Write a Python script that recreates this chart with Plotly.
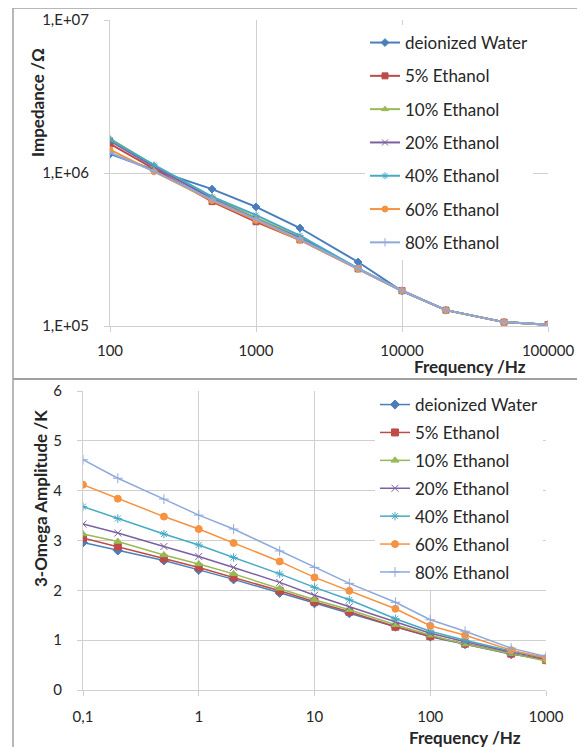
import plotly.graph_objects as go

series_names = ["deionized Water", "5% Ethanol", "10% Ethanol", "20% Ethanol",
                "40% Ethanol", "60% Ethanol", "80% Ethanol"]
colors = ["#4A7EBB", "#BE4B48", "#98B954", "#7D60A0", "#46AAC5", "#F69240", "#8EA9DB"]
symbols = ["diamond", "square", "triangle-up", "x-thin-open", "asterisk-open",
           "circle", "cross-thin-open"]

# Top chart: impedance vs frequency
freq_imp = [100, 200, 500, 1000, 2000, 5000, 10000, 20000, 50000, 100000]
imp_water = [1.33e6, 1.05e6, 7.85e5, 6.0e5, 4.37e5, 2.62e5, 1.69e5, 1.27e5, 1.06e5, 1.02e5]
imp_5 = [1.55e6, 1.07e6, 6.5e5, 4.8e5, 3.65e5, 2.36e5, 1.70e5, 1.27e5, 1.06e5, 1.02e5]
imp_10 = [1.68e6, 1.12e6, 6.95e5, 5.1e5, 3.8e5, 2.37e5, 1.70e5, 1.27e5, 1.06e5, 1.02e5]
imp_20 = [1.62e6, 1.10e6, 6.8e5, 5.0e5, 3.75e5, 2.36e5, 1.70e5, 1.27e5, 1.06e5, 1.02e5]
imp_40 = [1.65e6, 1.13e6, 7.0e5, 5.3e5, 3.9e5, 2.38e5, 1.70e5, 1.27e5, 1.06e5, 1.02e5]
imp_60 = [1.42e6, 1.02e6, 6.6e5, 4.9e5, 3.65e5, 2.36e5, 1.70e5, 1.27e5, 1.06e5, 1.02e5]
imp_80 = [1.36e6, 1.03e6, 6.7e5, 5.0e5, 3.7e5, 2.37e5, 1.70e5, 1.27e5, 1.06e5, 1.02e5]
imp_series = [imp_water, imp_5, imp_10, imp_20, imp_40, imp_60, imp_80]

# Bottom chart: 3-omega amplitude vs frequency
freq_amp = [0.1, 0.2, 0.5, 1, 2, 5, 10, 20, 50, 100, 200, 500, 1000]
amp_water = [2.96, 2.80, 2.60, 2.41, 2.22, 1.95, 1.74, 1.54, 1.27, 1.07, 0.92, 0.72, 0.61]
amp_5 = [3.05, 2.88, 2.64, 2.46, 2.26, 1.99, 1.77, 1.57, 1.27, 1.08, 0.93, 0.73, 0.60]
amp_10 = [3.13, 2.98, 2.71, 2.53, 2.33, 2.04, 1.81, 1.61, 1.31, 1.10, 0.92, 0.73, 0.58]
amp_20 = [3.33, 3.15, 2.88, 2.68, 2.46, 2.16, 1.90, 1.67, 1.37, 1.14, 0.97, 0.76, 0.63]
amp_40 = [3.68, 3.44, 3.13, 2.91, 2.66, 2.33, 2.06, 1.81, 1.43, 1.18, 1.00, 0.78, 0.65]
amp_60 = [4.12, 3.84, 3.48, 3.23, 2.95, 2.58, 2.26, 1.99, 1.63, 1.29, 1.10, 0.80, 0.64]
amp_80 = [4.62, 4.25, 3.83, 3.51, 3.23, 2.79, 2.46, 2.14, 1.76, 1.41, 1.18, 0.84, 0.67]
amp_series = [amp_water, amp_5, amp_10, amp_20, amp_40, amp_60, amp_80]

imp_xticks = [100, 1000, 10000, 100000]
imp_xticktext = ["100", "1000", "10000", "100000"]
imp_yticks = [1e5, 1e6, 1e7]
imp_yticktext = ["1,E+05", "1,E+06", "1,E+07"]
amp_xticks = [0.1, 1, 10, 100, 1000]
amp_xticktext = ["0,1", "1", "10", "100", "1000"]

# page body margin of 8 px offsets the figure inside the 585x747 window
OFF = 8
W, H = 585 - OFF, 747 - OFF
def px_x(p):
    return (p - OFF) / W
def px_y(p):
    return 1 - (p - OFF) / H

FONT = "Lato, Open Sans, sans-serif"
GRID = "#D0D0D0"
TXT = "#262626"

fig = go.Figure()

for i, name in enumerate(series_names):
    fig.add_trace(go.Scatter(
        x=freq_imp, y=imp_series[i], name=name, mode="lines+markers",
        line=dict(color=colors[i], width=2),
        marker=dict(symbol=symbols[i], size=6, color=colors[i],
                    line=dict(color=colors[i], width=1)),
        xaxis="x", yaxis="y", legend="legend", legendgroup="a%d" % i,
    ))
for i, name in enumerate(series_names):
    fig.add_trace(go.Scatter(
        x=freq_amp, y=amp_series[i], name=name, mode="lines+markers",
        line=dict(color=colors[i], width=1.5),
        marker=dict(symbol=symbols[i], size=7, color=colors[i],
                    line=dict(color=colors[i], width=1)),
        xaxis="x2", yaxis="y2", legend="legend2", legendgroup="b%d" % i,
    ))

axis_common = dict(showgrid=True, gridcolor=GRID, gridwidth=1,
                   showline=True, linecolor=GRID, linewidth=1,
                   ticks="outside", ticklen=5, tickcolor=GRID,
                   tickfont=dict(family=FONT, size=15, color=TXT),
                   zeroline=False, mirror=False, automargin=False)

def title_ann(text, x, y, angle=0):
    return dict(text="<b>%s</b>" % text, x=px_x(x), y=px_y(y), xref="paper", yref="paper",
                xanchor="center", yanchor="middle", textangle=angle, showarrow=False,
                font=dict(family=FONT, size=17, color=TXT))

fig.update_layout(
    width=W, height=H,
    margin=dict(l=0, r=0, t=0, b=0, autoexpand=False),
    paper_bgcolor="white", plot_bgcolor="white",
    font=dict(family=FONT, color=TXT),
    xaxis=dict(type="log", range=[2, 5], domain=[px_x(110), px_x(548)],
               tickvals=imp_xticks, ticktext=imp_xticktext, anchor="y",
               ticklabelstandoff=6, **axis_common),
    yaxis=dict(type="log", range=[5, 7], domain=[px_y(326), px_y(20)],
               tickvals=imp_yticks, ticktext=imp_yticktext, anchor="x",
               ticklabelstandoff=12, **axis_common),
    xaxis2=dict(type="log", range=[-1, 3], domain=[px_x(83), px_x(546)],
                tickvals=amp_xticks, ticktext=amp_xticktext, anchor="y2",
                ticklabelstandoff=8, **axis_common),
    yaxis2=dict(range=[0, 6], dtick=1, domain=[px_y(690), px_y(391)],
                anchor="x2", ticklabelstandoff=12, **axis_common),
    legend=dict(x=px_x(365), y=px_y(25), xanchor="left", yanchor="top",
                bgcolor="white", borderwidth=0, tracegroupgap=8.2,
                font=dict(family=FONT, size=17, color=TXT)),
    legend2=dict(x=px_x(375), y=px_y(387), xanchor="left", yanchor="top",
                 bgcolor="white", borderwidth=0, tracegroupgap=2.8,
                 font=dict(family=FONT, size=17, color=TXT)),
    annotations=[
        title_ann("Impedance /Ω", 38, 103, -90),
        title_ann("Frequency /Hz", 470, 366),
        title_ann("3-Omega Amplitude /K", 40, 499, -90),
        title_ann("Frequency /Hz", 465, 737),
    ],
    shapes=[
        dict(type="line", xref="paper", yref="paper", x0=px_x(13), x1=1, y0=px_y(8), y1=px_y(8),
             line=dict(color="#A0A0A0", width=1.5)),
        dict(type="line", xref="paper", yref="paper", x0=px_x(13), x1=1, y0=px_y(379), y1=px_y(379),
             line=dict(color="#A0A0A0", width=2)),
        dict(type="line", xref="paper", yref="paper", x0=px_x(13), x1=px_x(13), y0=px_y(8), y1=0,
             line=dict(color="#A0A0A0", width=1.5)),
    ],
)

fig.write_html("out.html")
